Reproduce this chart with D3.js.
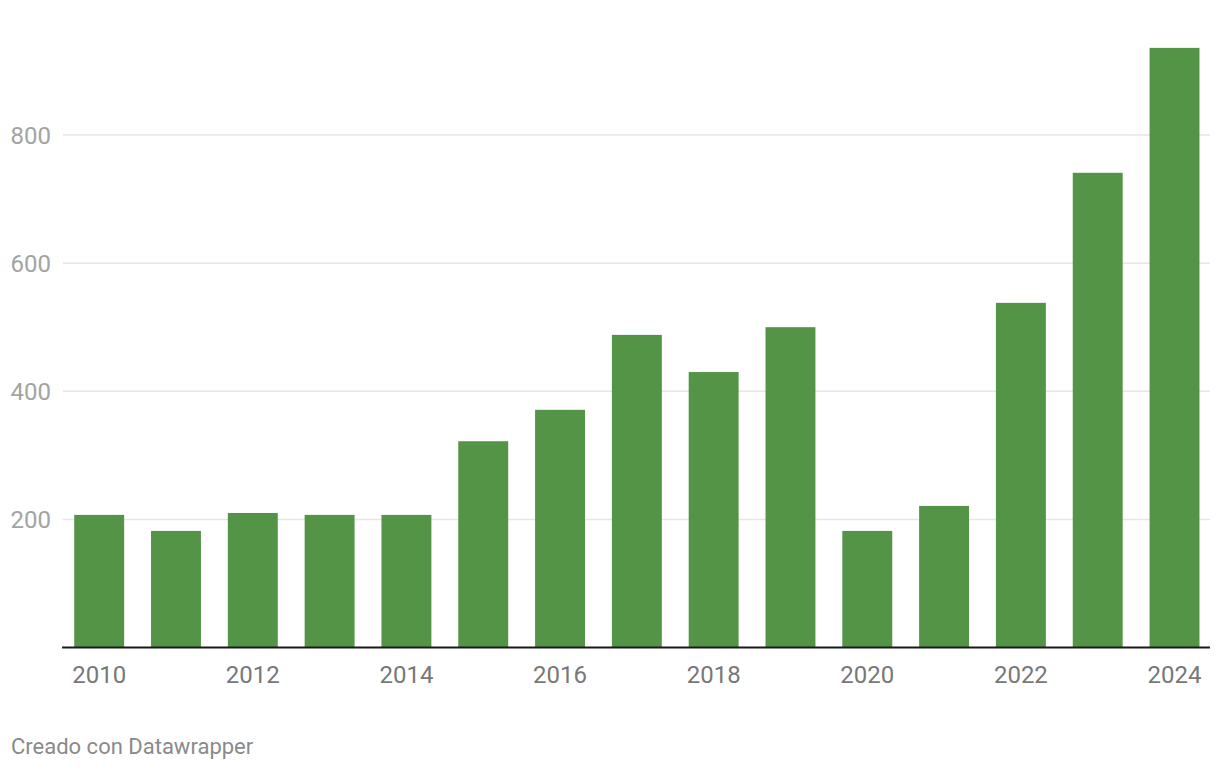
<!DOCTYPE html>
<html>
<head>
<meta charset="utf-8">
<script src="https://cdn.jsdelivr.net/npm/d3@7"></script>
<style>
  html, body { margin: 0; padding: 0; background: #fff; }
  svg { display: block; font-family: Roboto, "Noto Sans", sans-serif; }
</style>
</head>
<body>
<svg id="chart" width="1220" height="770"></svg>
<script>
const years = ["2010","2011","2012","2013","2014","2015","2016","2017","2018","2019","2020","2021","2022","2023","2024"];
const values = [207, 182, 210, 207, 207, 322, 371, 488, 430, 500, 182, 221, 538, 741, 936];
const yTicks = [200, 400, 600, 800];
const xTickLabels = ["2010","2012","2014","2016","2018","2020","2022","2024"];
const footerText = "Creado con Datawrapper";

const svg = d3.select("#chart");
const x = d3.scaleBand().domain(years).range([62.7, 1211]).paddingInner(0.35).paddingOuter(0.15);
const y = d3.scaleLinear().domain([0, 800]).range([647.5, 135]);

// gridlines
svg.append("g").selectAll("line").data(yTicks).join("line")
  .attr("x1", 63).attr("x2", 1210)
  .attr("y1", d => y(d)).attr("y2", d => y(d))
  .attr("stroke", "#e6e6e6").attr("stroke-width", 1.5);

// y labels
svg.append("g").selectAll("text").data(yTicks).join("text")
  .attr("x", 51).attr("y", d => y(d) + 8.5)
  .attr("text-anchor", "end")
  .attr("font-size", 24).attr("fill", "#a3a3a3")
  .text(d => d);

// bars
svg.append("g").selectAll("rect").data(years).join("rect")
  .attr("x", d => x(d)).attr("width", x.bandwidth())
  .attr("y", (d, i) => y(values[i]))
  .attr("height", (d, i) => y(0) - y(values[i]))
  .attr("fill", "#549447");

// baseline
svg.append("line").attr("x1", 62).attr("x2", 1210)
  .attr("y1", y(0)).attr("y2", y(0))
  .attr("stroke", "#1a1a1a").attr("stroke-width", 2);

// x labels
svg.append("g").selectAll("text").data(xTickLabels).join("text")
  .attr("x", d => x(d) + x.bandwidth() / 2).attr("y", 683)
  .attr("text-anchor", "middle")
  .attr("font-size", 24).attr("fill", "#787878")
  .text(d => d);

// footer
svg.append("text").attr("x", 11).attr("y", 754)
  .attr("font-size", 22).attr("fill", "#8a8a8a")
  .text(footerText);
</script>
</body>
</html>
